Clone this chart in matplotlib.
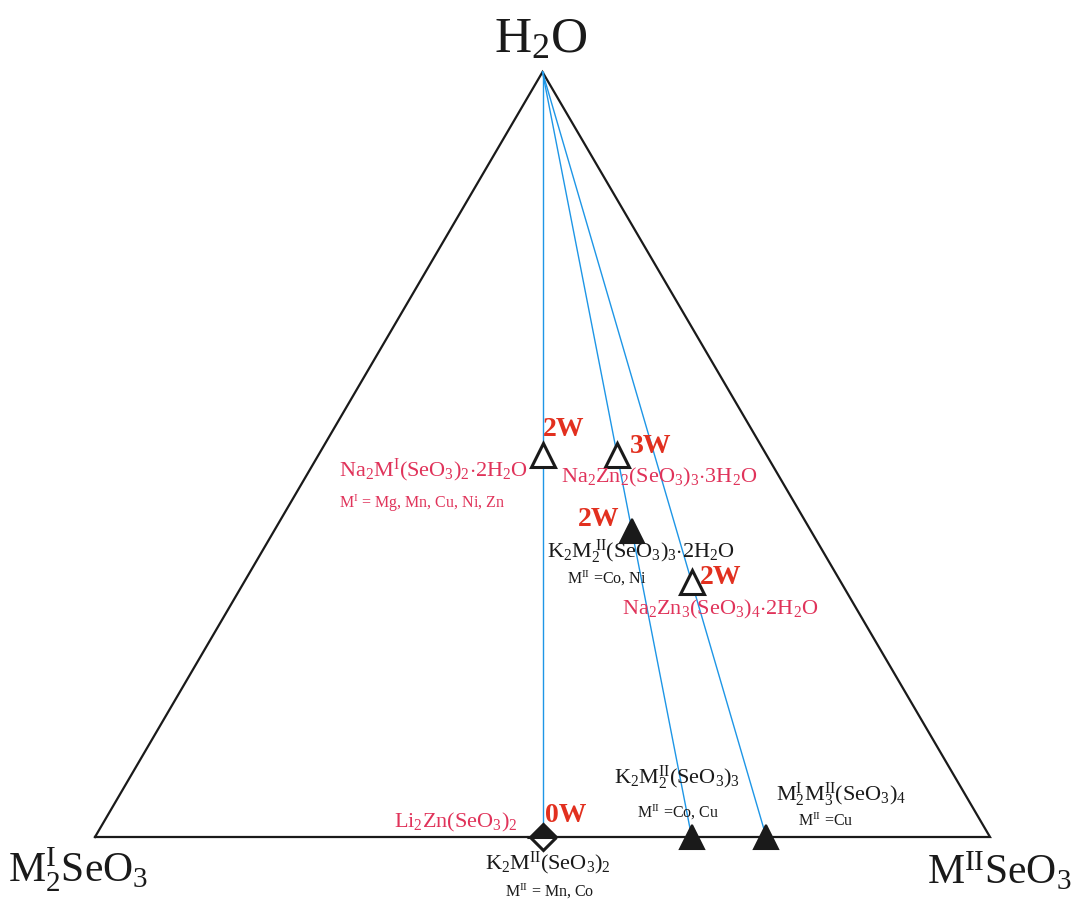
import matplotlib
matplotlib.use('Agg')
import matplotlib.pyplot as plt

plt.rcParams['font.family'] = ['Liberation Serif', 'DejaVu Serif']
plt.rcParams['mathtext.fontset'] = 'custom'
plt.rcParams['mathtext.rm'] = 'Liberation Serif'
plt.rcParams['mathtext.it'] = 'Liberation Serif:italic'
plt.rcParams['mathtext.bf'] = 'Liberation Serif:bold'

# compositions in moles of (M2(I)SeO3, M(II)SeO3, H2O)
phase_m1 = [1, 1, 1, 1, 1, 1, 1]
phase_m2 = [1, 2, 2, 3, 1, 2, 3]
phase_h2o = [2, 3, 2, 2, 0, 0, 0]
# open = Na/Li phases, filled = K phases, half = both at the same point
phase_kind = ['open', 'open', 'filled', 'open', 'half', 'filled', 'filled']

# base points of the tie lines to the H2O corner
tie_m1 = [1, 1, 1]
tie_m2 = [1, 2, 3]

RED = '#e2301f'
PINK = '#e0335a'
BLUE = '#1e96e6'
BLACK = '#1a1a1a'

W, H = 1092, 902
# triangle corners in the picture (pixels)
X0, X1, YB, YT = 95, 990, 837, 72


def tern(a, b, c):
    s = a + b + c
    return b / s + 0.5 * c / s, c / s


def px(x, y):
    return (x - X0) / (X1 - X0), (YB - y) / (YB - YT)


fig = plt.figure(figsize=(W / 100, H / 100), dpi=100)
ax = fig.add_axes([X0 / W, (H - YB) / H, (X1 - X0) / W, (YB - YT) / H])
ax.set_xlim(0, 1)
ax.set_ylim(0, 1)
ax.axis('off')

# triangle
ax.plot([0, 1, 0.5, 0], [0, 0, 1, 0], color=BLACK, lw=1.6, clip_on=False,
        solid_joinstyle='miter')

# tie lines
for a, b in zip(tie_m1, tie_m2):
    x, y = tern(a, b, 0)
    ax.plot([0.5, x], [1, y], color=BLUE, lw=1.0, clip_on=False, zorder=2)

# phases
for a, b, c, k in zip(phase_m1, phase_m2, phase_h2o, phase_kind):
    x, y = tern(a, b, c)
    if k == 'filled':
        ax.plot(x, y, marker='^', ms=17, color=BLACK, mec=BLACK, mew=1.5,
                clip_on=False, zorder=4)
    elif k == 'open':
        ax.plot(x, y, marker='^', ms=17, mfc='white', mec=BLACK, mew=2.2,
                clip_on=False, zorder=4)
    else:
        ax.plot(x, y, marker='D', ms=13, fillstyle='top', mfc=BLACK,
                mfcalt='white', mec=BLACK, mew=2.2, clip_on=False, zorder=4)

t = dict(clip_on=False, zorder=5)

# corner labels
ax.text(*px(541, 40), r'$\mathrm{H_2O}$', fontsize=37, color=BLACK,
        ha='center', va='center', **t)
ax.text(*px(8, 870), r'$\mathrm{M^I_2SeO_3}$', fontsize=30, color=BLACK,
        ha='left', va='center', **t)
ax.text(*px(927, 872), r'$\mathrm{M^{II}SeO_3}$', fontsize=30, color=BLACK,
        ha='left', va='center', **t)

# water labels
wk = dict(fontsize=20, fontweight='bold', color=RED, va='center', **t)
ax.text(*px(543, 430), '2W', ha='left', **wk)
ax.text(*px(630, 446), '3W', ha='left', **wk)
ax.text(*px(619, 519), '2W', ha='right', **wk)
ax.text(*px(700, 578), '2W', ha='left', **wk)
ax.text(*px(545, 815), '0W', ha='left', **wk)

# compound labels
big = dict(fontsize=16, va='center', **t)
small = dict(fontsize=11.5, va='center', **t)
ax.text(*px(339, 470), r'$\mathrm{Na_2M^I(SeO_3)_2{\cdot}2H_2O}$', color=PINK, ha='left', **big)
ax.text(*px(339, 503), r'$\mathrm{M^I}$ = Mg, Mn, Cu, Ni, Zn', color=PINK, ha='left', **small)
ax.text(*px(561, 477), r'$\mathrm{Na_2Zn_2(SeO_3)_3{\cdot}3H_2O}$', color=PINK, ha='left', **big)
ax.text(*px(547, 552), r'$\mathrm{K_2M_2^{\ II}(SeO_3)_3{\cdot}2H_2O}$', color=BLACK, ha='left', **big)
ax.text(*px(567, 578), r'$\mathrm{M^{II}}$ =Co, Ni', color=BLACK, ha='left', **small)
ax.text(*px(622, 609), r'$\mathrm{Na_2Zn_3(SeO_3)_4{\cdot}2H_2O}$', color=PINK, ha='left', **big)
ax.text(*px(614, 778), r'$\mathrm{K_2M^{II}_2(SeO_3)_3}$', color=BLACK, ha='left', **big)
ax.text(*px(637, 812), r'$\mathrm{M^{II}}$ =Co, Cu', color=BLACK, ha='left', **small)
ax.text(*px(776, 795), r'$\mathrm{M^I_2M^{II}_3(SeO_3)_4}$', color=BLACK, ha='left', **big)
ax.text(*px(798, 821), r'$\mathrm{M^{II}}$ =Cu', color=BLACK, ha='left', **small)
ax.text(*px(518, 822), r'$\mathrm{Li_2Zn(SeO_3)_2}$', color=PINK, ha='right', **big)
ax.text(*px(548, 863), r'$\mathrm{K_2M^{II}(SeO_3)_2}$', color=BLACK, ha='center', **big)
ax.text(*px(550, 891), r'$\mathrm{M^{II}}$ = Mn, Co', color=BLACK, ha='center', **small)

fig.savefig('out.png', dpi=100)
